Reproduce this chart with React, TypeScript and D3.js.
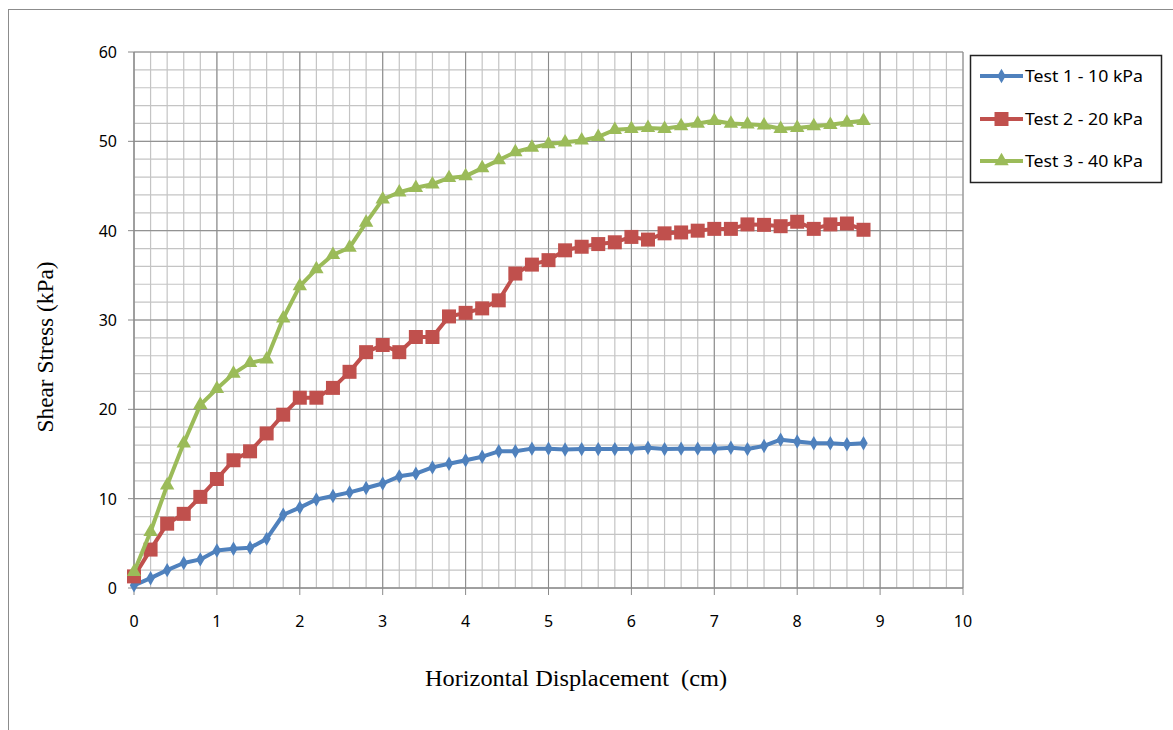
import React from "react";
import * as d3 from "d3";

const xValues = [0, 0.2, 0.4, 0.6, 0.8, 1.0, 1.2, 1.4, 1.6, 1.8, 2.0, 2.2, 2.4, 2.6, 2.8, 3.0, 3.2, 3.4, 3.6, 3.8, 4.0, 4.2, 4.4, 4.6, 4.8, 5.0, 5.2, 5.4, 5.6, 5.8, 6.0, 6.2, 6.4, 6.6, 6.8, 7.0, 7.2, 7.4, 7.6, 7.8, 8.0, 8.2, 8.4, 8.6, 8.8];

const test1 = [0.3, 1.1, 2.0, 2.8, 3.2, 4.2, 4.4, 4.5, 5.5, 8.2, 9.0, 9.9, 10.3, 10.7, 11.2, 11.7, 12.5, 12.8, 13.5, 13.9, 14.3, 14.7, 15.3, 15.3, 15.6, 15.6, 15.5, 15.55, 15.55, 15.55, 15.6, 15.7, 15.55, 15.6, 15.6, 15.6, 15.7, 15.55, 15.9, 16.6, 16.4, 16.2, 16.2, 16.1, 16.2];

const test2 = [1.3, 4.3, 7.2, 8.3, 10.2, 12.2, 14.3, 15.3, 17.3, 19.4, 21.3, 21.3, 22.4, 24.2, 26.4, 27.2, 26.4, 28.1, 28.1, 30.4, 30.8, 31.3, 32.2, 35.2, 36.2, 36.7, 37.8, 38.2, 38.5, 38.7, 39.3, 39.0, 39.7, 39.8, 40.0, 40.2, 40.2, 40.7, 40.65, 40.5, 41.0, 40.2, 40.7, 40.8, 40.1];

const test3 = [1.8, 6.3, 11.5, 16.2, 20.5, 22.3, 24.0, 25.2, 25.6, 30.2, 33.8, 35.7, 37.3, 38.1, 40.9, 43.5, 44.3, 44.8, 45.2, 45.9, 46.1, 47.0, 47.9, 48.8, 49.3, 49.7, 49.9, 50.1, 50.5, 51.3, 51.4, 51.5, 51.4, 51.7, 52.0, 52.3, 52.0, 51.9, 51.8, 51.4, 51.5, 51.7, 51.85, 52.1, 52.3];

const xTicks = [0, 1, 2, 3, 4, 5, 6, 7, 8, 9, 10];
const yTicks = [0, 10, 20, 30, 40, 50, 60];
const xMinor = d3.range(0, 10.01, 0.2);
const yMinor = d3.range(0, 60.01, 2);

const seriesNames = ["Test 1 - 10 kPa", "Test 2 - 20 kPa", "Test 3 - 40 kPa"];
const seriesColors = ["#4F81BD", "#C0504D", "#9BBB59"];
const seriesData = [test1, test2, test3];
const seriesMarkers = ["diamond", "square", "triangle"];

const left = 134, right = 963, top = 52, bottom = 588;

function markerPath(kind: string) {
  if (kind === "diamond") return d3.symbol(d3.symbolDiamond, 60)();
  if (kind === "square") return d3.symbol(d3.symbolSquare, 14 * 14)();
  return d3.symbol(d3.symbolTriangle, 90)();
}

export default function App() {
  const x = d3.scaleLinear().domain([0, 10]).range([left, right]);
  const y = d3.scaleLinear().domain([0, 60]).range([bottom, top]);
  const line = d3.line<[number, number]>().x(d => x(d[0])).y(d => y(d[1]));
  const legendY = [76, 119, 161];
  const tickFont = "'Noto Sans', sans-serif";
  return (
    <svg width={1173} height={730} style={{ position: "absolute", left: 0, top: 0, background: "#fff" }}>
      <rect x={8.5} y={9.5} width={1180} height={740} fill="#fff" stroke="#8c8c8c" strokeWidth={1} />
      {/* minor grid */}
      {xMinor.map((v, i) => (
        <line key={"xm" + i} x1={x(v)} x2={x(v)} y1={top} y2={bottom} stroke="#c4c4c4" strokeWidth={1.2} />
      ))}
      {yMinor.map((v, i) => (
        <line key={"ym" + i} x1={left} x2={right} y1={y(v)} y2={y(v)} stroke="#c4c4c4" strokeWidth={1.2} />
      ))}
      {/* major grid */}
      {xTicks.map(v => (
        <line key={"xM" + v} x1={x(v)} x2={x(v)} y1={top} y2={bottom + 7} stroke="#8a8a8a" strokeWidth={1} />
      ))}
      {yTicks.map(v => (
        <line key={"yM" + v} x1={left - 6} x2={right} y1={y(v)} y2={y(v)} stroke="#8a8a8a" strokeWidth={1} />
      ))}
      <line x1={left} x2={left} y1={top} y2={bottom} stroke="#8a8a8a" strokeWidth={1} />
      <line x1={left} x2={right} y1={bottom} y2={bottom} stroke="#8a8a8a" strokeWidth={1} />
      {/* tick labels */}
      {yTicks.map(v => (
        <text key={"yl" + v} x={117} y={y(v)} textAnchor="end" dominantBaseline="central" fontFamily={tickFont} fontSize={16} fill="#000">{v}</text>
      ))}
      {xTicks.map(v => (
        <text key={"xl" + v} x={x(v)} y={621} textAnchor="middle" dominantBaseline="central" fontFamily={tickFont} fontSize={16} fill="#000">{v}</text>
      ))}
      {/* series */}
      {seriesData.map((data, si) => {
        const pts: [number, number][] = data.map((v, i) => [xValues[i], v]);
        const mp = markerPath(seriesMarkers[si]);
        return (
          <g key={"s" + si}>
            <path d={line(pts) || ""} fill="none" stroke={seriesColors[si]} strokeWidth={4} strokeLinejoin="round" />
            {pts.map((p, i) => (
              <path key={i} d={mp || ""} transform={`translate(${x(p[0])},${y(p[1])})`} fill={seriesColors[si]} />
            ))}
          </g>
        );
      })}
      {/* axis titles */}
      <text x={576} y={678} textAnchor="middle" dominantBaseline="central" fontFamily="'Liberation Serif', serif" fontSize={23} textLength={302} lengthAdjust="spacingAndGlyphs" fill="#000" style={{ whiteSpace: "pre" }}>{"Horizontal Displacement  (cm)"}</text>
      <text transform="translate(45,347) rotate(-90)" textAnchor="middle" dominantBaseline="central" fontFamily="'Liberation Serif', serif" fontSize={23} textLength={171} lengthAdjust="spacingAndGlyphs" fill="#000">Shear Stress (kPa)</text>
      {/* legend */}
      <rect x={970.5} y={55.5} width={191} height={127} fill="#fff" stroke="#222" strokeWidth={1.5} />
      {seriesNames.map((name, i) => {
        const mp = markerPath(seriesMarkers[i]);
        return (
          <g key={"lg" + i}>
            <line x1={980} x2={1023} y1={legendY[i]} y2={legendY[i]} stroke={seriesColors[i]} strokeWidth={4} />
            <path d={mp || ""} transform={`translate(1001.5,${legendY[i]})`} fill={seriesColors[i]} />
            <text x={1025} y={legendY[i]} dominantBaseline="central" fontFamily={tickFont} fontSize={16} textLength={118} lengthAdjust="spacingAndGlyphs" fill="#000">{name}</text>
          </g>
        );
      })}
    </svg>
  );
}
